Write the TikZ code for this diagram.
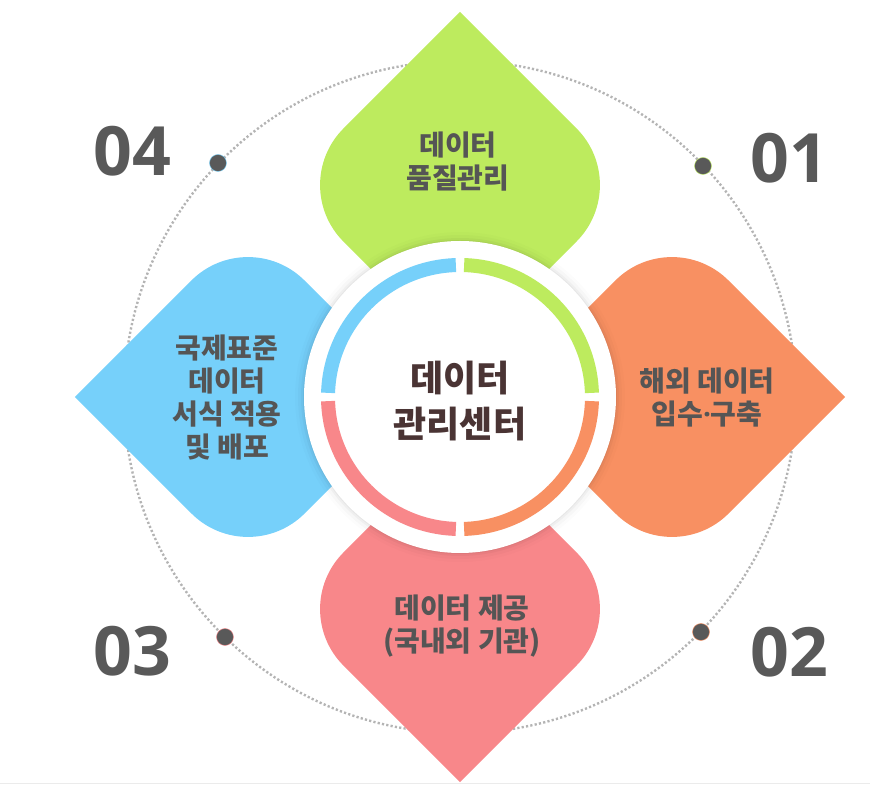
\documentclass[tikz,border=0pt]{standalone}
\usepackage{fontspec}
\usepackage{tikz}
\newfontfamily\krfont{Noto Sans CJK KR}
\newfontfamily\numfont{Open Sans}

\definecolor{petalgreen}{HTML}{BDEB5E}
\definecolor{petalorange}{HTML}{F89062}
\definecolor{petalpink}{HTML}{F8878A}
\definecolor{petalblue}{HTML}{76D0FA}
\definecolor{textgray}{HTML}{555555}
\definecolor{numgray}{HTML}{595959}
\definecolor{centerbrown}{HTML}{4A3434}
\definecolor{guidegray}{HTML}{B4B4B4}

\begin{document}
\begin{tikzpicture}[x=1pt, y=1pt,
    petal/.pic={
        \path[pic actions] (0,385) -- (116.5,268.6) arc[start angle=45, end angle=-45, radius=80pt]
            -- (56.6,95.5) arc[start angle=-45, end angle=-135, radius=80pt]
            -- (-116.5,155.4) arc[start angle=-135, end angle=-225, radius=80pt] -- cycle;
    },
    petaltext/.style={font=\krfont\bfseries\fontsize{28pt}{33pt}\selectfont, text=textgray, align=center, inner sep=0pt},
    centertext/.style={font=\krfont\bfseries\fontsize{36pt}{46pt}\selectfont, text=centerbrown, align=center, inner sep=0pt},
    numtext/.style={font=\numfont\bfseries\fontsize{68pt}{68pt}\selectfont, text=numgray, inner sep=0pt},
    stepdot/.style={circle, fill=numgray, minimum size=17pt, inner sep=0pt, line width=0.4pt},
    guide/.style={draw=guidegray, line width=2.4pt, dash pattern=on 2.2pt off 2.2pt},
    ring/.style={line width=14pt}
]
    \useasboundingbox (-460,-389) rectangle (410,397);
    \draw[black!8, line width=0.8pt] (-460,-386) -- (410,-386);

    % dotted guide circle and step dots
    \draw[guide] (0,0) circle[radius=336pt];
    \node[stepdot, draw=petalgreen] (dot1) at (243,231) {};
    \node[stepdot, draw=petalorange] (dot2) at (241,-235) {};
    \node[stepdot, draw=petalpink] (dot3) at (-235,-240) {};
    \node[stepdot, draw=petalblue] (dot4) at (-242,234) {};

    % step numbers
    \node[numtext] (num1) at (329,239) {01};
    \node[numtext] (num2) at (329,-255) {02};
    \node[numtext] (num3) at (-328,-254) {03};
    \node[numtext] (num4) at (-328,246) {04};

    % petals
    \pic[fill=petalgreen] {petal};
    \pic[fill=petalorange, rotate=-90] {petal};
    \pic[fill=petalpink, rotate=180] {petal};
    \pic[fill=petalblue, rotate=90] {petal};

    % center disk with soft shadow
    \foreach \r/\o in {165/0.012, 162/0.02, 159/0.03, 157/0.04}
        \fill[black, opacity=\o] (0,0) circle[radius=\r pt];
    \fill[white] (0,0) circle[radius=156pt];
    \draw[ring, petalgreen] (88.2:132) arc[start angle=88.2, end angle=1.8, radius=132pt];
    \draw[ring, petalorange] (-1.8:132) arc[start angle=-1.8, end angle=-88.2, radius=132pt];
    \draw[ring, petalpink] (-91.8:132) arc[start angle=-91.8, end angle=-178.2, radius=132pt];
    \draw[ring, petalblue] (178.2:132) arc[start angle=178.2, end angle=91.8, radius=132pt];

    % labels
    \node[centertext] (center) at (0,-4) {데이터\\관리센터};
    \node[petaltext] (quality) at (-2,235) {데이터\\품질관리};
    \node[petaltext] (collect) at (247,-1) {해외 데이터\\입수{\numfont\bfseries ·}구축};
    \node[petaltext] (provide) at (2,-229) {데이터 제공\\(국내외 기관)};
    \node[petaltext] (standard) at (-233,-1) {국제표준\\데이터\\서식 적용\\및 배포};
\end{tikzpicture}
\end{document}
